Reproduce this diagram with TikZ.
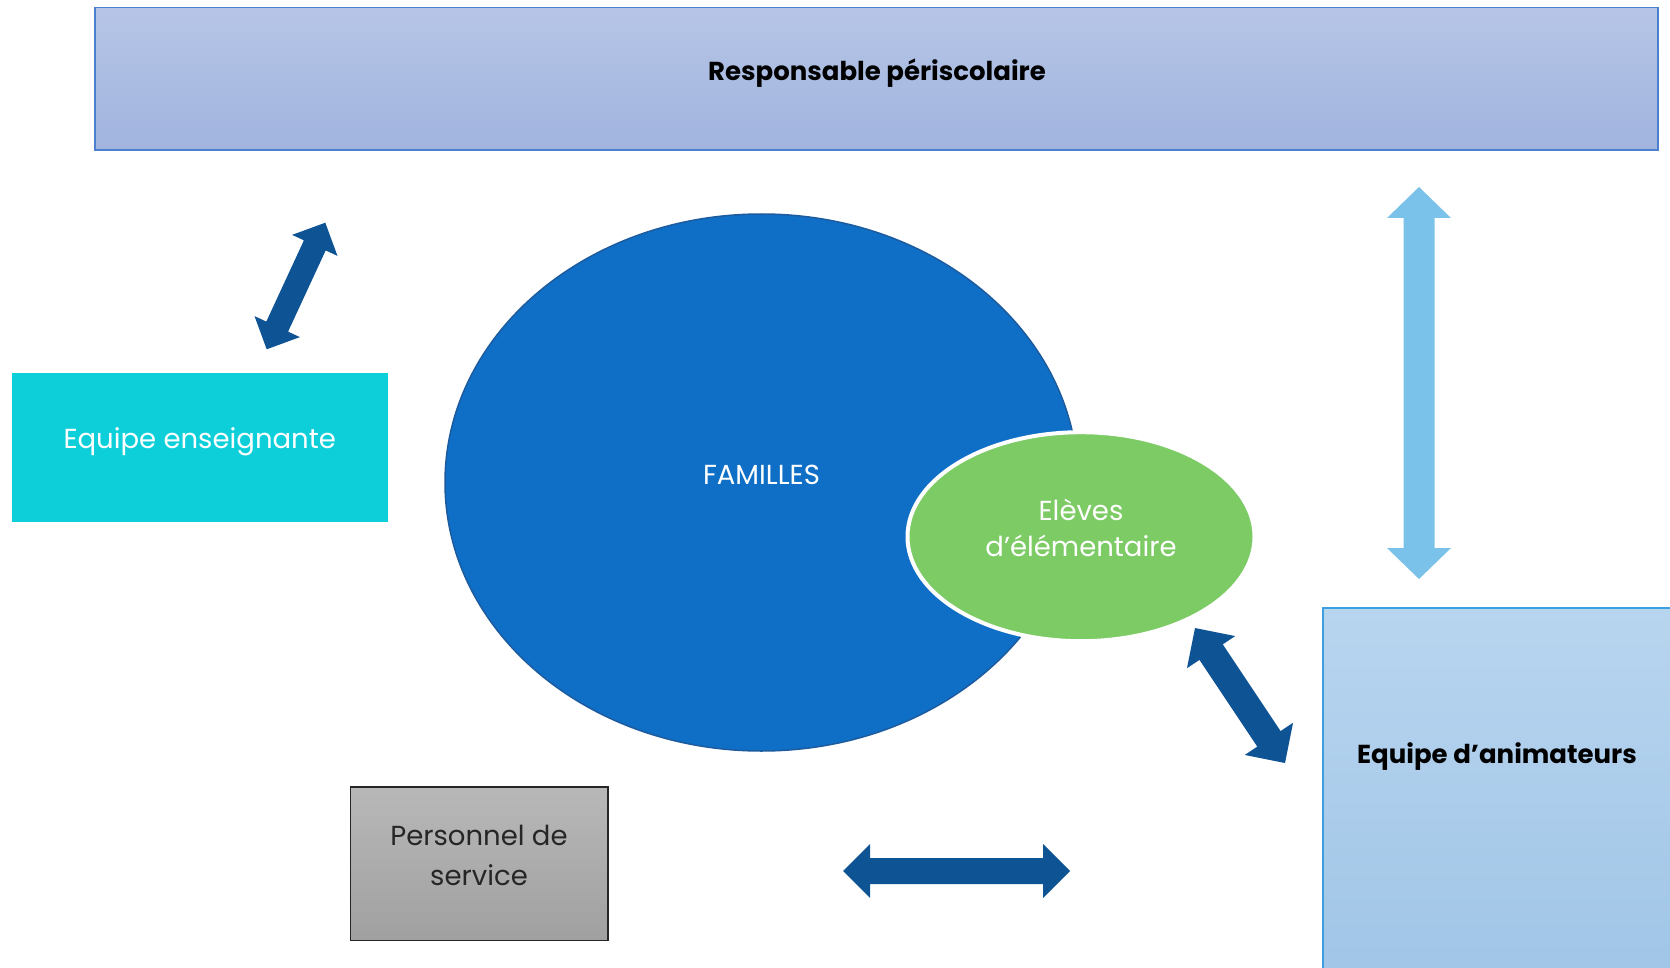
\documentclass[tikz,border=0pt]{standalone}
\usepackage{fontspec}
\setmainfont{Poppins}
\usetikzlibrary{calc,shapes.geometric}
\definecolor{respTop}{HTML}{B6C5E7}
\definecolor{respBot}{HTML}{A1B4DE}
\definecolor{respLine}{HTML}{4A80CE}
\definecolor{cyanBox}{HTML}{0DCFDA}
\definecolor{famBlue}{HTML}{0F6FC6}
\definecolor{famLine}{HTML}{1D5B9F}
\definecolor{eleveGreen}{HTML}{7DCB65}
\definecolor{animTop}{HTML}{B8D5EF}
\definecolor{animBot}{HTML}{9DC3E6}
\definecolor{animLine}{HTML}{3C9FE0}
\definecolor{persTop}{HTML}{B8B8B8}
\definecolor{persBot}{HTML}{A0A0A0}
\definecolor{darkArrow}{HTML}{0E5494}
\definecolor{lightArrow}{HTML}{7AC2E9}
\newcommand{\fatarrow}[6]{%
\fill[#3] (#1) -- ($(#1)!#6!(#2)!#5!90:(#2)$) -- ($(#1)!#6!(#2)!#4!90:(#2)$)
 -- ($(#2)!#6!(#1)!#4!-90:(#1)$) -- ($(#2)!#6!(#1)!#5!-90:(#1)$) -- (#2)
 -- ($(#2)!#6!(#1)!#5!90:(#1)$) -- ($(#2)!#6!(#1)!#4!90:(#1)$)
 -- ($(#1)!#6!(#2)!#4!-90:(#2)$) -- ($(#1)!#6!(#2)!#5!-90:(#2)$) -- cycle;}
\begin{document}
\begin{tikzpicture}[x=1pt,y=-1pt,
  box/.style={rectangle, inner sep=0pt, outer sep=0pt},
  oval/.style={ellipse, inner sep=0pt, outer sep=0pt},
  txt/.style={inner sep=0pt, font=\fontsize{27.5}{37}\selectfont, align=center},
  btxt/.style={txt, font=\fontsize{26}{36}\selectfont\bfseries}]
\useasboundingbox (0,0) rectangle (1670,968);
\clip (0,0) rectangle (1670,968);
% top box
\node[box, top color=respTop, bottom color=respBot, draw=respLine, line width=1.5pt,
  minimum width=1563pt, minimum height=142.5pt] (resp) at (876.5,78.75) {};
\node[btxt] (resptext) at (877,73) {Responsable périscolaire};
% equipe enseignante
\node[box, fill=cyanBox, minimum width=376pt, minimum height=149pt] (ens) at (199.7,447.4) {};
\node[txt, text=white] (enstext) at (199.7,442) {Equipe enseignante};
% familles
\node[oval, fill=famBlue, draw=famLine, line width=1.5pt, minimum width=633pt, minimum height=537pt] (fam) at (761.5,482.5) {};
\node[txt, text=white] (famtext) at (761.5,475) {FAMILLES};
% eleves
\node[oval, fill=eleveGreen, draw=white, line width=4pt, minimum width=347pt, minimum height=209pt] (elev) at (1081,536.7) {};
\node[txt, text=white, font=\fontsize{27.5}{36.5}\selectfont] (elevtext) at (1081,528) {Elèves\\d’élémentaire};
% animateurs
\node[box, top color=animTop, bottom color=animBot, draw=animLine, line width=1.5pt,
  minimum width=420pt, minimum height=420pt, anchor=north west] (anim) at (1322.9,608.2) {};
\node[btxt] (animtext) at (1497,757) {Equipe d’animateurs};
% personnel
\node[box, top color=persTop, bottom color=persBot, draw=black!85, line width=1.5pt,
  minimum width=257.8pt, minimum height=153.5pt] (pers) at (479.3,863.75) {};
\node[txt, text=black!85, font=\fontsize{27.5}{40}\selectfont] (perstext) at (479,855) {Personnel de\\service};
% arrows
\coordinate (a1s) at (266.7,349.3);
\coordinate (a1e) at (325.3,222.7);
\coordinate (a2s) at (1195,628);
\coordinate (a2e) at (1285,763);
\coordinate (a3s) at (843,871);
\coordinate (a3e) at (1070,871);
\coordinate (a4s) at (1419,187);
\coordinate (a4e) at (1419,579);
\fatarrow{a1s}{a1e}{darkArrow}{12pt}{25pt}{25pt}
\fatarrow{a2s}{a2e}{darkArrow}{14pt}{29pt}{29pt}
\fatarrow{a3s}{a3e}{darkArrow}{13pt}{27pt}{27pt}
\fatarrow{a4s}{a4e}{lightArrow}{15.5pt}{32pt}{31pt}
\end{tikzpicture}
\end{document}
